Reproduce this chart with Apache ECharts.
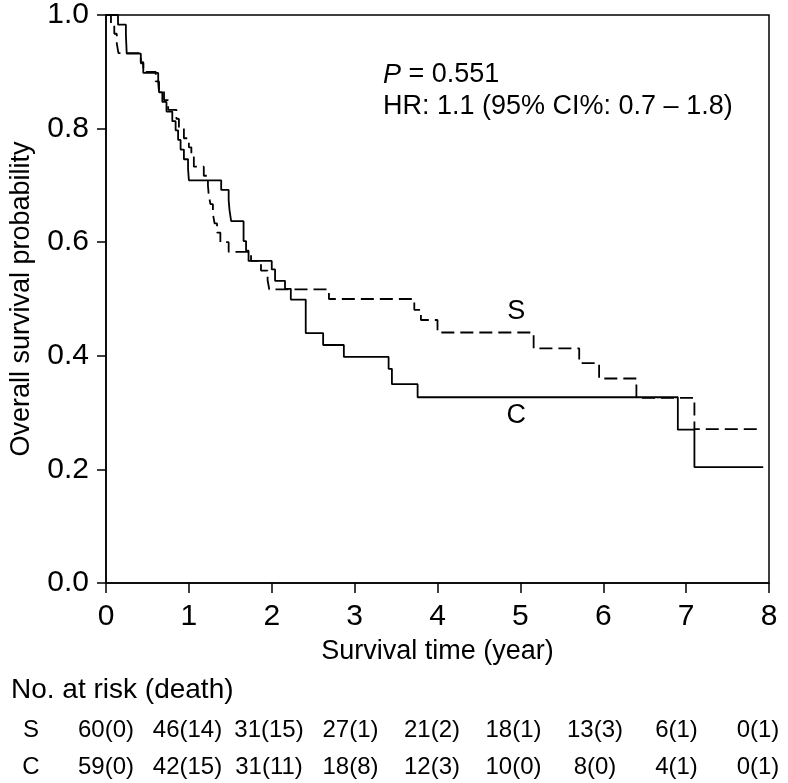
<!DOCTYPE html>
<html><head><meta charset="utf-8">
<script src="https://cdn.jsdelivr.net/npm/echarts@6/dist/echarts.min.js"></script>
<style>html,body{margin:0;padding:0;background:#fff}#c{width:788px;height:783px}</style>
</head><body><div id="c"></div>
<script>
// ---- data ----
const sTimes = [0, 0.06, 0.1, 0.13, 0.15, 0.42, 0.45, 0.6, 0.64, 0.7, 0.75, 0.85, 0.88, 0.94, 1.0, 1.03, 1.06, 1.18, 1.23, 1.24, 1.26, 1.29, 1.31, 1.34, 1.38, 1.48, 1.75, 1.87, 1.95, 1.97, 2.69, 3.72, 3.8, 4.0, 5.16, 5.71, 5.95, 6.4, 7.1, 7.9];
const sSurv  = [1, 0.983, 0.967, 0.95, 0.933, 0.917, 0.9, 0.883, 0.867, 0.85, 0.833, 0.817, 0.8, 0.783, 0.767, 0.75, 0.733, 0.717, 0.7, 0.683, 0.667, 0.65, 0.633, 0.617, 0.6, 0.583, 0.567, 0.55, 0.533, 0.517, 0.5, 0.481, 0.463, 0.441, 0.413, 0.387, 0.36, 0.326, 0.271, 0.271];
const cTimes = [0, 0.145, 0.24, 0.245, 0.25, 0.42, 0.45, 0.63, 0.64, 0.68, 0.73, 0.8, 0.84, 0.87, 0.9, 0.94, 0.99, 1.0, 1.39, 1.48, 1.49, 1.51, 1.66, 1.69, 1.72, 2.0, 2.04, 2.16, 2.23, 2.41, 2.62, 2.87, 3.41, 3.45, 3.76, 6.9, 7.1, 7.93];
const cSurv  = [1, 0.983, 0.966, 0.949, 0.932, 0.915, 0.898, 0.881, 0.864, 0.847, 0.83, 0.813, 0.797, 0.78, 0.763, 0.746, 0.729, 0.709, 0.692, 0.674, 0.657, 0.637, 0.602, 0.585, 0.567, 0.552, 0.532, 0.518, 0.499, 0.44, 0.419, 0.398, 0.377, 0.35, 0.327, 0.27, 0.204, 0.204];
const xTicks = [0, 1, 2, 3, 4, 5, 6, 7, 8];
const yTickLabels = ['0.0', '0.2', '0.4', '0.6', '0.8', '1.0'];
const groupNames = ['S', 'C'];
const riskS = ['60(0)', '46(14)', '31(15)', '27(1)', '21(2)', '18(1)', '13(3)', '6(1)', '0(1)'];
const riskC = ['59(0)', '42(15)', '31(11)', '18(8)', '12(3)', '10(0)', '8(0)', '4(1)', '0(1)'];
const pText = '0.551';
const hrText = 'HR: 1.1 (95% CI%: 0.7 \u2013 1.8)';
const xTitle = 'Survival time (year)';
const yTitle = 'Overall survival probability';
const riskTitle = 'No. at risk (death)';

// ---- chart ----
const FONT = "'Liberation Sans', Arial, Helvetica, sans-serif";
const FS_TICK = 30;
const FS = 27;
const FS_HEAD = 28;
const FS_TAB = 24;
const chart = echarts.init(document.getElementById('c'), null, {renderer: 'canvas'});
const zip = (a, b) => a.map((t, i) => [t, b[i]]);

chart.setOption({
  animation: false,
  backgroundColor: '#fff',
  grid: {left: 105, right: 19, top: 12, bottom: 200, show: true, borderColor: '#000', borderWidth: 1.5, backgroundColor: 'transparent'},
  xAxis: {
    type: 'value', min: 0, max: 8, interval: 1,
    name: xTitle, nameLocation: 'middle', nameGap: 55,
    nameTextStyle: {fontFamily: FONT, fontSize: FS, color: '#000'},
    axisLine: {show: true, lineStyle: {color: '#000', width: 1.5}},
    axisTick: {show: true, length: 10, lineStyle: {color: '#000', width: 1.5}},
    axisLabel: {margin: 19, fontFamily: FONT, fontSize: FS_TICK, color: '#000'},
    splitLine: {show: false}
  },
  yAxis: {
    type: 'value', min: 0, max: 1, interval: 0.2,
    name: yTitle, nameLocation: 'middle', nameGap: 71, nameRotate: 90,
    nameTextStyle: {fontFamily: FONT, fontSize: FS, color: '#000'},
    axisLine: {show: true, lineStyle: {color: '#000', width: 1.5}},
    axisTick: {show: true, length: 9, lineStyle: {color: '#000', width: 1.5}},
    axisLabel: {margin: 17, fontFamily: FONT, fontSize: FS_TICK, color: '#000',
      formatter: v => yTickLabels[Math.round(v / 0.2)]},
    splitLine: {show: false}
  },
  series: [
    {name: groupNames[0], type: 'line', step: 'end', data: zip(sTimes, sSurv), showSymbol: false,
     lineStyle: {color: '#000', width: 1.8, type: [13, 6]}},
    {name: groupNames[1], type: 'line', step: 'end', data: zip(cTimes, cSurv), showSymbol: false,
     lineStyle: {color: '#000', width: 1.8, type: 'solid'}}
  ]
});

// annotations and at-risk table
const px = (x, y) => chart.convertToPixel({gridIndex: 0}, [x, y]);
const g = [];
const annX = 383;
g.push({type: 'text', x: annX, y: 75, style: {
  text: '{i|P} = ' + pText, font: FS + 'px ' + FONT, fill: '#000', verticalAlign: 'middle',
  rich: {i: {fontStyle: 'italic', fontFamily: FONT, fontSize: FS, fill: '#000'}}}});
g.push({type: 'text', x: annX, y: 107, style: {text: hrText, font: FS + 'px ' + FONT, fill: '#000', verticalAlign: 'middle'}});
const sLab = px(4.95, sSurv[33]);
const cLab = px(4.95, cSurv[34]);
g.push({type: 'text', x: sLab[0], y: sLab[1] - 21, style: {text: groupNames[0], font: FS + 'px ' + FONT, fill: '#000', align: 'center', verticalAlign: 'middle'}});
g.push({type: 'text', x: cLab[0], y: cLab[1] + 18, style: {text: groupNames[1], font: FS + 'px ' + FONT, fill: '#000', align: 'center', verticalAlign: 'middle'}});
g.push({type: 'text', x: 11, y: 690, style: {text: riskTitle, font: FS_HEAD + 'px ' + FONT, fill: '#000', align: 'left', verticalAlign: 'middle'}});
const rows = [riskS, riskC];
const rowY = [730, 767];
const colScale = 0.9834;
rows.forEach((r, ri) => {
  g.push({type: 'text', x: 31, y: rowY[ri], style: {text: groupNames[ri], font: FS_TAB + 'px ' + FONT, fill: '#000', align: 'center', verticalAlign: 'middle'}});
  r.forEach((txt, i) => {
    g.push({type: 'text', x: px(xTicks[i] * colScale, 0)[0], y: rowY[ri], style: {text: txt, font: FS_TAB + 'px ' + FONT, fill: '#000', align: 'center', verticalAlign: 'middle'}});
  });
});
chart.setOption({graphic: g});
</script>
</body></html>
